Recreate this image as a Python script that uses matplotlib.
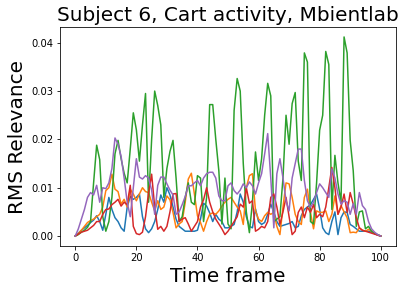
import numpy as np
import matplotlib
matplotlib.use("Agg")
import matplotlib.pyplot as plt

# RMS relevance per time frame, one list per channel
blue = [0.000, 0.0006, 0.0012, 0.0017, 0.0022, 0.0028, 0.0033, 0.0042, 0.0030, 0.0012,
        0.0045, 0.0080, 0.0055, 0.0038, 0.0030, 0.0017, 0.0010, 0.0060, 0.0082, 0.0076,
        0.0080, 0.0087, 0.0040, 0.0015, 0.0007, 0.0015, 0.0030, 0.0055, 0.0085, 0.0070,
        0.0100, 0.0085, 0.0060, 0.0035, 0.0020, 0.0015, 0.0010, 0.0010, 0.0010, 0.0010,
        0.0012, 0.0035, 0.0068, 0.0062, 0.0048, 0.0030, 0.0045, 0.0035, 0.0030, 0.0017,
        0.0017, 0.0020, 0.0024, 0.0050, 0.0087, 0.0070, 0.0040, 0.0020, 0.0017, 0.0056,
        0.0030, 0.0024, 0.0028, 0.0045, 0.0066, 0.0050, 0.0030, 0.0020, 0.0022, 0.0024,
        0.0026, 0.0030, 0.0017, 0.0020, 0.0042, 0.0055, 0.0060, 0.0065, 0.0076, 0.0087,
        0.0056, 0.0017, 0.0007, 0.0003, 0.0030, 0.0050, 0.0003, 0.0038, 0.0050, 0.0049,
        0.0024, 0.0020, 0.0015, 0.0010, 0.0010, 0.0010, 0.0010, 0.0008, 0.0005, 0.0002,
        0.0000]

orange = [0.000, 0.0005, 0.0012, 0.0020, 0.0028, 0.0032, 0.0035, 0.0040, 0.0045, 0.0060,
          0.0094, 0.0100, 0.0128, 0.0097, 0.0092, 0.0066, 0.0076, 0.0060, 0.0097, 0.0087,
          0.0073, 0.0087, 0.0100, 0.0092, 0.0090, 0.0070, 0.0052, 0.0073, 0.0055, 0.0060,
          0.0083, 0.0075, 0.0049, 0.0017, 0.0025, 0.0030, 0.0070, 0.0118, 0.0130, 0.0087,
          0.0042, 0.0028, 0.0010, 0.0030, 0.0045, 0.0048, 0.0045, 0.0052, 0.0062, 0.0070,
          0.0076, 0.0080, 0.0070, 0.0060, 0.0052, 0.0024, 0.0100, 0.0125, 0.0129, 0.0052,
          0.0035, 0.0030, 0.0042, 0.0049, 0.0045, 0.0049, 0.0020, 0.0003, 0.0060, 0.0110,
          0.0108, 0.0080, 0.0045, 0.0030, 0.0024, 0.0080, 0.0097, 0.0049, 0.0015, 0.0052,
          0.0049, 0.0049, 0.0052, 0.0030, 0.0045, 0.0083, 0.0045, 0.0063, 0.0050, 0.0038,
          0.0007, 0.0008, 0.0007, 0.0017, 0.0012, 0.0010, 0.0014, 0.0010, 0.0005, 0.0002,
          0.0000]

green = [0.000, 0.0003, 0.0008, 0.0012, 0.0018, 0.0030, 0.0110, 0.0188, 0.0158, 0.0040,
         0.0010, 0.0030, 0.0080, 0.0170, 0.0198, 0.0160, 0.0130, 0.0110, 0.0180, 0.0255,
         0.0220, 0.0155, 0.0230, 0.0295, 0.0070, 0.0200, 0.0300, 0.0270, 0.0230, 0.0080,
         0.0140, 0.0175, 0.0198, 0.0120, 0.0030, 0.0040, 0.0080, 0.0110, 0.0070, 0.0065,
         0.0125, 0.0120, 0.0030, 0.0080, 0.0272, 0.0272, 0.0200, 0.0135, 0.0025, 0.0120,
         0.0025, 0.0015, 0.0260, 0.0326, 0.0300, 0.0150, 0.0050, 0.0007, 0.0070, 0.0174,
         0.0115, 0.0160, 0.0250, 0.0316, 0.0290, 0.0030, 0.0035, 0.0040, 0.0120, 0.0250,
         0.0190, 0.0274, 0.0297, 0.0155, 0.0115, 0.0379, 0.0360, 0.0030, 0.0025, 0.0110,
         0.0219, 0.0250, 0.0382, 0.0355, 0.0055, 0.0167, 0.0110, 0.0070, 0.0412, 0.0379,
         0.0198, 0.0135, 0.0020, 0.0050, 0.0052, 0.0015, 0.0020, 0.0010, 0.0005, 0.0003,
         0.0000]

red = [0.000, 0.0004, 0.0008, 0.0010, 0.0012, 0.0017, 0.0022, 0.0030, 0.0030, 0.0045,
       0.0055, 0.0056, 0.0065, 0.0070, 0.0076, 0.0062, 0.0070, 0.0065, 0.0105, 0.0020,
       0.0005, 0.0003, 0.0008, 0.0040, 0.0090, 0.0128, 0.0060, 0.0014, 0.0020, 0.0010,
       0.0020, 0.0050, 0.0087, 0.0088, 0.0030, 0.0035, 0.0038, 0.0025, 0.0010, 0.0020,
       0.0030, 0.0060, 0.0075, 0.0100, 0.0070, 0.0050, 0.0035, 0.0025, 0.0015, 0.0003,
       0.0010, 0.0020, 0.0030, 0.0040, 0.0066, 0.0060, 0.0100, 0.0068, 0.0073, 0.0010,
       0.0014, 0.0020, 0.0017, 0.0030, 0.0080, 0.0087, 0.0060, 0.0024, 0.0050, 0.0080,
       0.0040, 0.0003, 0.0010, 0.0049, 0.0060, 0.0038, 0.0060, 0.0049, 0.0065, 0.0038,
       0.0045, 0.0040, 0.0060, 0.0100, 0.0142, 0.0100, 0.0045, 0.0060, 0.0087, 0.0049,
       0.0090, 0.0066, 0.0038, 0.0017, 0.0012, 0.0010, 0.0008, 0.0006, 0.0004, 0.0002,
       0.0000]

purple = [0.000, 0.0015, 0.0035, 0.0055, 0.0080, 0.0090, 0.0085, 0.0105, 0.0070, 0.0100,
          0.0098, 0.0110, 0.0140, 0.0203, 0.0190, 0.0165, 0.0120, 0.0070, 0.0040, 0.0100,
          0.0160, 0.0122, 0.0118, 0.0125, 0.0120, 0.0095, 0.0045, 0.0105, 0.0122, 0.0122,
          0.0108, 0.0095, 0.0085, 0.0045, 0.0050, 0.0065, 0.0082, 0.0104, 0.0104, 0.0110,
          0.0115, 0.0104, 0.0120, 0.0129, 0.0132, 0.0132, 0.0120, 0.0083, 0.0073, 0.0073,
          0.0104, 0.0110, 0.0094, 0.0087, 0.0095, 0.0108, 0.0100, 0.0112, 0.0104, 0.0087,
          0.0110, 0.0129, 0.0170, 0.0212, 0.0120, 0.0017, 0.0129, 0.0160, 0.0120, 0.0073,
          0.0052, 0.0120, 0.0150, 0.0180, 0.0180, 0.0115, 0.0073, 0.0060, 0.0069, 0.0090,
          0.0108, 0.0100, 0.0090, 0.0080, 0.0139, 0.0120, 0.0087, 0.0066, 0.0073, 0.0070,
          0.0045, 0.0067, 0.0045, 0.0090, 0.0063, 0.0055, 0.0030, 0.0015, 0.0008, 0.0003,
          0.0000]


def main():
    fig = plt.figure(figsize=(405 / 72, 292 / 72), dpi=72)
    ax = fig.add_axes([60 / 405, 46 / 292, 336 / 405, 219 / 292])

    for series in [blue, orange, green, red, purple]:
        ax.plot(np.arange(len(series)), series)

    ax.set_title("Subject 6, Cart activity, Mbientlab", size=20)
    ax.set_xlabel("Time frame", size=20)
    ax.set_ylabel("RMS Relevance", size=20)
    fig.savefig("out.png", dpi=72)
    plt.close(fig)


if __name__ == "__main__":
    main()
